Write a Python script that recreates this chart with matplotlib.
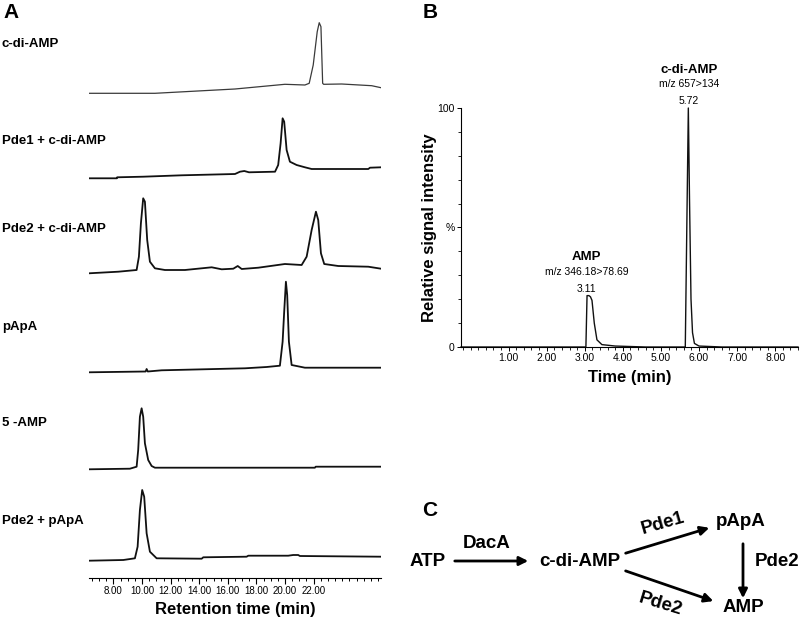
import matplotlib.pyplot as plt
from matplotlib.patches import FancyArrowPatch
from matplotlib.ticker import MultipleLocator, FixedLocator, FormatStrFormatter

plt.rcParams['font.family'] = ['Liberation Sans', 'DejaVu Sans']

# ---- panel A: HPLC traces (time in min, signal above lane baseline) ----
lane_names = ["c-di-AMP", "Pde1 + c-di-AMP", "Pde2 + c-di-AMP", "pApA", "5 -AMP", "Pde2 + pApA"]

cdiamp_t = [6.29, 10.90, 16.50, 19.99, 21.39, 21.69, 21.97, 22.25, 22.39, 22.51, 22.63, 22.70, 23.96, 26.06, 26.71]
cdiamp_y = [0, 0, 4.3, 9, 8.3, 10, 28.3, 61.6, 70.6, 66.6, 10, 9, 9.3, 7.6, 5.6]

pde1_t = [6.29, 8.24, 8.26, 10.08, 12.77, 16.50, 16.85, 17.15, 17.48, 19.30, 19.52, 19.69, 19.83, 19.94,
          20.11, 20.34, 20.81, 21.39, 21.86, 25.82, 25.94, 26.71]
pde1_y = [0, 0, 1, 1.6, 3, 4.3, 6.6, 7.3, 6, 6.6, 13.3, 35, 60, 56.6, 28.3, 16.6, 13.3, 11, 9.3, 9.3, 10.6, 11]

pde2_t = [6.29, 8.34, 9.62, 9.78, 9.92, 10.08, 10.20, 10.36, 10.55, 10.90, 11.60, 13.00, 14.87, 15.57, 16.38,
          16.69, 16.97, 18.13, 19.99, 21.16, 21.51, 21.86, 22.16, 22.32, 22.51, 22.74, 23.72, 25.82, 26.71]
pde2_y = [0, 1.6, 3.3, 16.6, 50, 75, 71.6, 33.3, 11.6, 5, 3.3, 3.3, 6, 4, 4.6,
          7.3, 4.3, 5.6, 9.3, 8.3, 16.6, 43.3, 61.6, 53.3, 20, 9.3, 7.3, 6.6, 4.6]

papa_t = [6.29, 9.27, 10.25, 10.32, 10.40, 11.37, 17.20, 18.71, 19.64, 19.83, 19.94, 20.06, 20.15, 20.27, 20.46, 21.39, 26.71]
papa_y = [0, 0.6, 0.8, 3.3, 0.8, 2, 4, 5.3, 6.6, 30.6, 60.6, 90.6, 77.3, 30.6, 7.3, 4.6, 4.6]

amp5_t = [6.29, 9.15, 9.62, 9.73, 9.85, 9.97, 10.08, 10.20, 10.43, 10.67, 10.90, 22.09, 22.14, 26.71]
amp5_y = [0, 0.6, 2.6, 19.3, 52.6, 61, 52.6, 26, 9.3, 3.3, 1.6, 1.6, 2.6, 2.6]

pde2papa_t = [6.29, 8.69, 9.50, 9.69, 9.85, 10.01, 10.15, 10.32, 10.55, 11.02, 14.17, 14.28, 17.31, 17.43,
              20.22, 20.57, 20.92, 21.04, 26.71]
pde2papa_y = [0, 0.7, 2.4, 14, 50.7, 70.7, 64, 27.4, 9, 2.4, 2, 3.4, 4, 5, 5, 5.7, 5.7, 4.7, 4]

traces_t = [cdiamp_t, pde1_t, pde2_t, papa_t, amp5_t, pde2papa_t]
traces_y = [cdiamp_y, pde1_y, pde2_y, papa_y, amp5_y, pde2papa_y]

# ---- panel B: LC-MS trace ----
ms_t = [-0.25, 3.03, 3.06, 3.11, 3.15, 3.19, 3.25, 3.32, 3.45, 3.80, 4.60,
        5.64, 5.72, 5.75, 5.79, 5.83, 5.88, 6.00, 6.60, 8.60]
ms_y = [0, 0, 21.5, 21.5, 21, 19.5, 10, 3, 1, 0.4, 0,
        0, 100, 63, 20, 6, 1.5, 0.4, 0, 0]

W, H = 800, 619
fig = plt.figure(figsize=(8, 6.19), dpi=100)


def fx(px):
    return px / W


def fy(py):
    return 1 - py / H


# panel A
ax_a = fig.add_axes([fx(89), fy(578), fx(381) - fx(89), fy(10) - fy(578)])
lane_base = [484.7, 399.7, 304.7, 205.7, 108.7, 17.3]
lane_label_y = [44, 141, 229, 327, 423, 521]
for i in range(len(lane_names)):
    yy = [v + lane_base[i] for v in traces_y[i]]
    if i == 0:
        ax_a.plot(traces_t[i], yy, color='#3a3a3a', lw=0.9)
    else:
        ax_a.plot(traces_t[i], yy, color='#111111', lw=1.3)
    fig.text(fx(2), fy(lane_label_y[i]), lane_names[i], fontsize=9.5, fontweight='bold',
             ha='left', va='center')

ax_a.set_xlim(6.29, 26.71)
ax_a.set_ylim(0, 568)
for s in ['top', 'right', 'left']:
    ax_a.spines[s].set_visible(False)
ax_a.spines['bottom'].set_linewidth(0.8)
ax_a.set_yticks([])
ax_a.xaxis.set_major_locator(FixedLocator([8, 10, 12, 14, 16, 18, 20, 22]))
ax_a.xaxis.set_major_formatter(FormatStrFormatter('%.2f'))
ax_a.xaxis.set_minor_locator(MultipleLocator(0.5))
ax_a.tick_params(axis='x', which='major', length=4, width=0.8, labelsize=7, pad=2)
ax_a.tick_params(axis='x', which='minor', length=2.5, width=0.7)
ax_a.set_xlabel("Retention time (min)", fontsize=12, fontweight='bold', labelpad=4)

# panel B
ax_b = fig.add_axes([fx(461), fy(347), fx(798) - fx(461), fy(108) - fy(347)])
ax_b.plot(ms_t, ms_y, color='#111111', lw=1.0, clip_on=False)
ax_b.set_xlim(-0.25, 8.6)
ax_b.set_ylim(0, 100)
for s in ['top', 'right']:
    ax_b.spines[s].set_visible(False)
ax_b.spines['left'].set_linewidth(0.8)
ax_b.spines['bottom'].set_linewidth(0.8)
ax_b.xaxis.set_major_locator(FixedLocator([1, 2, 3, 4, 5, 6, 7, 8]))
ax_b.xaxis.set_major_formatter(FormatStrFormatter('%.2f'))
ax_b.xaxis.set_minor_locator(MultipleLocator(0.2))
ax_b.set_yticks([0, 50, 100])
ax_b.set_yticklabels(['0', '%', '100'])
ax_b.yaxis.set_minor_locator(MultipleLocator(10))
ax_b.tick_params(axis='both', which='major', length=3, width=0.7, labelsize=7.5, pad=1.5)
ax_b.tick_params(axis='both', which='minor', length=2, width=0.6)
ax_b.set_xlabel("Time (min)", fontsize=12, fontweight='bold', labelpad=5)
ax_b.set_ylabel("Relative signal intensity", fontsize=12, fontweight='bold', labelpad=0)

peak_lbl = [(5.74, 100, "5.72", "m/z 657>134", "c-di-AMP"),
            (3.05, 21.5, "3.11", "m/z 346.18>78.69", "AMP")]
for px_, py_, rt, mz, name in peak_lbl:
    ax_b.annotate(rt, xy=(px_, py_), xytext=(0, 5), textcoords='offset points',
                  ha='center', va='center', fontsize=7.5)
    ax_b.annotate(mz, xy=(px_, py_), xytext=(0, 17), textcoords='offset points',
                  ha='center', va='center', fontsize=7.5)
    ax_b.annotate(name, xy=(px_, py_), xytext=(0, 27.5), textcoords='offset points',
                  ha='center', va='center', fontsize=9.5, fontweight='bold')

# panel letters
fig.text(fx(3), fy(12), "A", fontsize=15, fontweight='bold', ha='left', va='center')
fig.text(fx(423), fy(12), "B", fontsize=15, fontweight='bold', ha='left', va='center')
fig.text(fx(422), fy(510), "C", fontsize=15, fontweight='bold', ha='left', va='center')

# panel C: pathway scheme
c_nodes = {"ATP": (428, 562), "c-di-AMP": (580, 562), "pApA": (741, 521), "AMP": (743, 608)}
for name, (x, y) in c_nodes.items():
    fig.text(fx(x), fy(y), name, fontsize=13.5, fontweight='bold', ha='center', va='center')

arrows = [((452, 561), (531, 561)), ((623, 554), (712, 527)),
          ((623, 570), (716, 602)), ((743, 541), (743, 601))]
for (x0, y0), (x1, y1) in arrows:
    fig.add_artist(FancyArrowPatch(
        (fx(x0), fy(y0)), (fx(x1), fy(y1)), transform=fig.transFigure,
        arrowstyle='-|>', mutation_scale=13, lw=2.0, color='black'))

fig.text(fx(487), fy(543), "DacA", fontsize=13.5, fontweight='bold', ha='center', va='center')
fig.text(fx(663), fy(524), "Pde1", fontsize=13.5, fontweight='bold', ha='center', va='center',
         rotation=16)
fig.text(fx(660), fy(604), "Pde2", fontsize=13.5, fontweight='bold', ha='center', va='center',
         rotation=-17)
fig.text(fx(755), fy(562), "Pde2", fontsize=13.5, fontweight='bold', ha='left', va='center')

fig.savefig("out.png", dpi=100)
